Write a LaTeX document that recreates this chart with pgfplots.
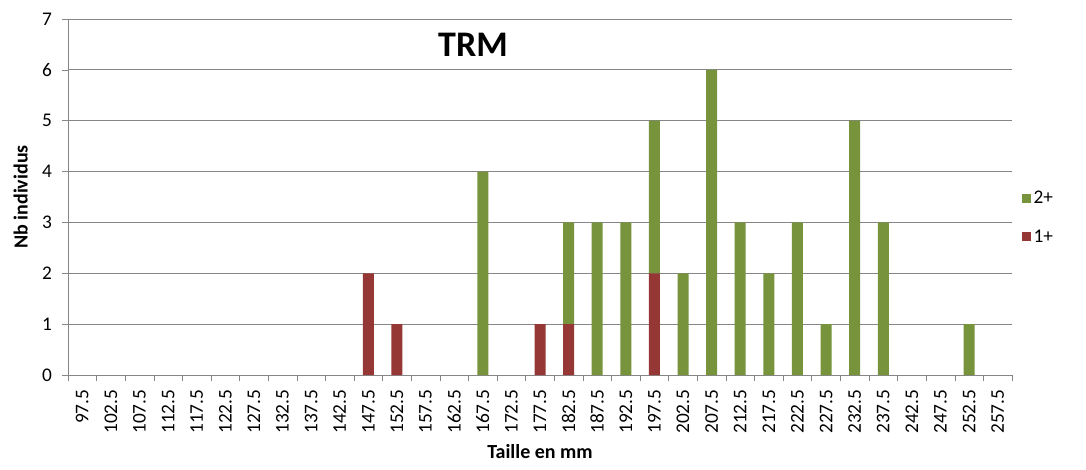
\documentclass[border=0pt]{standalone}
\usepackage{fontspec}
\setmainfont{Carlito}
\usepackage{pgfplots}
\pgfplotsset{compat=1.18}
\definecolor{unplus}{RGB}{149,55,53}
\definecolor{deuxplus}{RGB}{119,147,60}
\definecolor{gridgray}{RGB}{134,134,134}

% index, 1+, 2+  (classes 97.5 ... 257.5 by 5 mm)
\pgfplotstableread{
idx one two
0 0 0
1 0 0
2 0 0
3 0 0
4 0 0
5 0 0
6 0 0
7 0 0
8 0 0
9 0 0
10 2 0
11 1 0
12 0 0
13 0 0
14 0 4
15 0 0
16 1 0
17 1 2
18 0 3
19 0 3
20 2 3
21 0 2
22 0 6
23 0 3
24 0 2
25 0 3
26 0 1
27 0 5
28 0 3
29 0 0
30 0 0
31 0 1
32 0 0
}\trmdata

\begin{document}
\begin{tikzpicture}
\useasboundingbox (-51pt,-70.5pt) rectangle (763.5pt,281.25pt);
\begin{axis}[
    at={(0,0)}, anchor=south west,
    scale only axis,
    width=708pt, height=267pt,
    ybar stacked,
    bar width=8.25pt,
    xmin=-0.5, xmax=32.5,
    ymin=0, ymax=7,
    ytick={0,...,7},
    xtick={0,...,32},
    xticklabels={97.5,102.5,107.5,112.5,117.5,122.5,127.5,132.5,137.5,142.5,147.5,152.5,157.5,162.5,167.5,172.5,177.5,182.5,187.5,192.5,197.5,202.5,207.5,212.5,217.5,222.5,227.5,232.5,237.5,242.5,247.5,252.5,257.5},
    minor xtick={-0.5,0.5,...,32.5},
    major x tick style={draw=none},
    minor tick length=4.5pt,
    major tick length=4.5pt,
    tick align=outside,
    axis x line*=bottom,
    axis y line*=left,
    axis line style={gridgray, -},
    every tick/.style={gridgray},
    ymajorgrids,
    grid style={gridgray, line width=0.6pt},
    /pgf/number format/assume math mode=true,
    xticklabel shift=3pt,
    yticklabel shift=4pt,
    xticklabel style={rotate=90, anchor=east, font=\fontsize{14.5}{16}\selectfont, text=black},
    yticklabel style={font=\fontsize{14.5}{16}\selectfont, text=black},
    xlabel={\textbf{Taille en mm}},
    ylabel={\textbf{Nb individus}},
    xlabel style={font=\fontsize{15}{17}\selectfont, yshift=-1pt},
    ylabel style={font=\fontsize{15}{17}\selectfont, yshift=4pt},
    reverse legend,
    legend style={at={(rel axis cs:1.006,0.442)}, anchor=west, draw=none,
        font=\fontsize{14.5}{16}\selectfont, row sep=14pt},
    legend cell align=left,
    legend image code/.code={\fill[#1] (0pt,-3.4pt) rectangle (6.8pt,3.4pt);},
    clip=false,
]
\addplot[fill=unplus, draw=none] table[x=idx, y=one] {\trmdata};
\addlegendentry{1+}
\addplot[fill=deuxplus, draw=none] table[x=idx, y=two] {\trmdata};
\addlegendentry{2+}
\node[font=\fontsize{27}{30}\selectfont\bfseries] at (rel axis cs:0.429,0.927) {TRM};
\end{axis}
\end{tikzpicture}
\end{document}
